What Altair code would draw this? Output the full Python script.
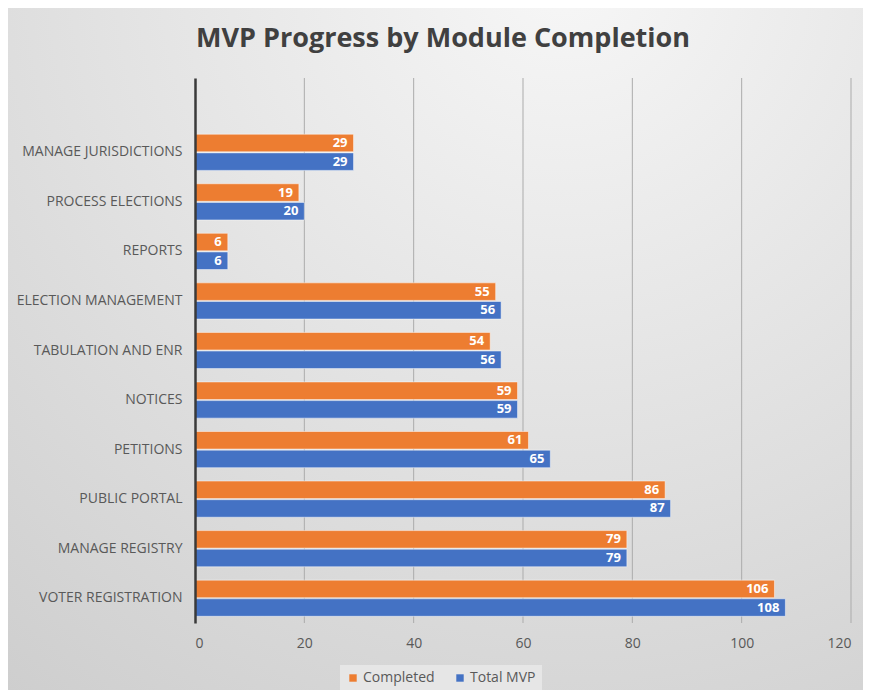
import altair as alt
import pandas as pd

categories = ["MANAGE JURISDICTIONS", "PROCESS ELECTIONS", "REPORTS", "ELECTION MANAGEMENT",
              "TABULATION AND ENR", "NOTICES", "PETITIONS", "PUBLIC PORTAL",
              "MANAGE REGISTRY", "VOTER REGISTRATION"]
completed = [29, 19, 6, 55, 54, 59, 61, 86, 79, 106]
total_mvp = [29, 20, 6, 56, 56, 59, 65, 87, 79, 108]
series = ["Completed", "Total MVP"]
colors = ["#ED7D31", "#4472C4"]
x_ticks = [0, 20, 40, 60, 80, 100, 120]

rows = []
for c, a, b in zip(categories, completed, total_mvp):
    rows.append({"module": c, "series": series[0], "value": a})
    rows.append({"module": c, "series": series[1], "value": b})
df = pd.DataFrame(rows)
grid_df = pd.DataFrame({"tick": x_ticks[1:]})

W, H = 656, 545
PAD = {"left": 187, "top": 70, "right": 12, "bottom": 67}
y_domain = [" "] + categories

bg = alt.Chart(alt.Data(values=[{"a": 1}])).mark_rect(
    fill=alt.Gradient(
        gradient="radial",
        x1=0.65, y1=0.05, r1=0.0,
        x2=0.65, y2=0.05, r2=1.15,
        stops=[alt.GradientStop(color="#f7f7f7", offset=0),
               alt.GradientStop(color="#cbcbcb", offset=1)],
    )
).encode(
    x=alt.value(-PAD["left"]), x2=alt.value(W + PAD["right"]),
    y=alt.value(-PAD["top"]), y2=alt.value(H + PAD["bottom"]),
)

xscale = alt.Scale(domain=[0, 120], nice=False)

grid = alt.Chart(grid_df).mark_rule(color="#ababab", strokeWidth=1).encode(
    x=alt.X("tick:Q", scale=xscale),
    y=alt.value(0), y2=alt.value(H),
)

y_enc = alt.Y("module:N", sort=y_domain,
              scale=alt.Scale(domain=y_domain, paddingInner=0.27, paddingOuter=0.135),
              axis=alt.Axis(title=None, ticks=False, labelPadding=13, labelFontSize=14,
                            labelColor="#595959", labelFont="Open Sans", zindex=2,
                            domainColor="#3a3a3a", domainWidth=2.5, grid=False))
yoff = alt.YOffset("series:N", sort=series, scale=alt.Scale(paddingInner=0.06))

bars = alt.Chart(df).mark_bar(stroke="#ffffff", strokeWidth=0.8, strokeOpacity=0.6).encode(
    x=alt.X("value:Q", scale=xscale,
            axis=alt.Axis(title=None, values=x_ticks, grid=False, domain=False, ticks=False,
                          labelPadding=13, labelFontSize=14, labelColor="#595959",
                          labelFont="Open Sans", zindex=2)),
    y=y_enc,
    yOffset=yoff,
    color=alt.Color("series:N", sort=series,
                    scale=alt.Scale(domain=series, range=colors),
                    legend=alt.Legend(title=None, orient="none", direction="horizontal",
                                      legendX=145, legendY=587, fillColor="#e6e6e6",
                                      padding=6, symbolType="square", symbolSize=55,
                                      symbolStrokeWidth=0, labelFontSize=14,
                                      labelColor="#595959", labelFont="Open Sans",
                                      columnPadding=18, labelOffset=3, zindex=2)),
)

labels = alt.Chart(df).mark_text(align="right", baseline="middle", dx=-6, color="white",
                                 fontWeight="bold", fontSize=13, font="Open Sans").encode(
    x=alt.X("value:Q", scale=xscale),
    y=alt.Y("module:N", sort=y_domain),
    yOffset=yoff,
    text=alt.Text("value:Q"),
)

chart = alt.layer(bg, grid, bars, labels).properties(
    width=W, height=H,
    autosize=alt.AutoSizeParams(type="none"),
    padding=PAD,
    background="#dcdcdc",
    title=alt.TitleParams("MVP Progress by Module Completion", font="Open Sans", fontSize=27,
                          fontWeight="bold", color="#404040", anchor="middle", dx=-80,
                          offset=0, dy=72, baseline="bottom", zindex=2),
).configure_view(stroke=None)

chart.save("out.html", embed_options={"renderer": "svg", "actions": False})
